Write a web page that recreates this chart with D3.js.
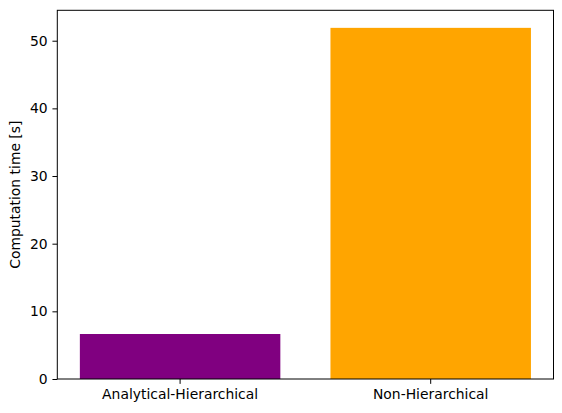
<!DOCTYPE html>
<html><head><meta charset="utf-8">
<script src="https://cdn.jsdelivr.net/npm/d3@7"></script>
<style>body{margin:0;background:#fff}svg{display:block}text{font-family:"DejaVu Sans",sans-serif}</style>
</head><body>
<svg id="c" width="562" height="413"></svg>
<script>
const categories = ["Analytical-Hierarchical", "Non-Hierarchical"];
const values = [6.65, 51.9];
const colors = ["#800080", "#FFA500"];
const yTicks = [0, 10, 20, 30, 40, 50];
const yLabel = "Computation time [s]";

const svg = d3.select("#c");
const L = 57.3, R = 553.5, T = 10.3, B = 379;
const x = d3.scaleBand().domain(categories).range([L, R]).paddingInner(0.2).paddingOuter(0.09);
const y = d3.scaleLinear().domain([0, d3.max(values) * 1.05]).range([B, T]);

svg.selectAll("rect.bar").data(values).enter().append("rect")
  .attr("class", "bar")
  .attr("x", (d, i) => x(categories[i]))
  .attr("width", x.bandwidth())
  .attr("y", d => y(d))
  .attr("height", d => y(0) - y(d))
  .attr("fill", (d, i) => colors[i]);

const fs = "13.9px";
const yAxis = svg.append("g").attr("transform", `translate(${L},0)`)
  .call(d3.axisLeft(y).tickValues(yTicks).tickSize(4.86).tickPadding(4.86));
const xAxis = svg.append("g").attr("transform", `translate(0,${B})`)
  .call(d3.axisBottom(x).tickSize(4.86).tickPadding(4.86));
[yAxis, xAxis].forEach(g => {
  g.select(".domain").remove();
  g.selectAll("line").attr("stroke", "#000").attr("stroke-width", 1);
  g.selectAll("text").attr("fill", "#000").style("font-size", fs).style("font-family", "DejaVu Sans");
});
xAxis.selectAll("text").attr("dy", "0.75em");

svg.append("rect").attr("x", L).attr("y", T).attr("width", R - L).attr("height", B - T)
  .attr("fill", "none").attr("stroke", "#000").attr("stroke-width", 1);

svg.append("text")
  .attr("transform", `translate(20,${(T + B) / 2}) rotate(-90)`)
  .attr("text-anchor", "middle")
  .style("font-size", fs)
  .text(yLabel);
</script>
</body></html>
